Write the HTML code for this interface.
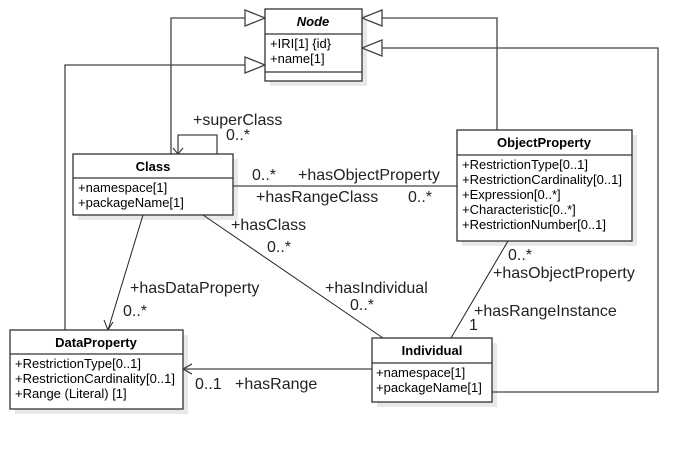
<!DOCTYPE html>
<html><head><style>body{margin:0;background:#fff}svg{display:block}</style></head><body>
<svg width="699" height="450" xmlns="http://www.w3.org/2000/svg" font-family="Liberation Sans, sans-serif">
<rect width="699" height="450" fill="#fff"/>
<g fill="#e8e8e8">
<rect x="270" y="14" width="97" height="72"/>
<rect x="78" y="159" width="160" height="61"/>
<rect x="462" y="135" width="175" height="111"/>
<rect x="15" y="335" width="173" height="79"/>
<rect x="377" y="343" width="120" height="64"/>
</g>
<g fill="none" stroke="#444" stroke-width="1.3">
<polyline points="171,154 171,18 245,18"/>
<polyline points="65,330 65,65 245,65"/>
<polyline points="497,130 497,18 382,18"/>
<polyline points="492,392 658,392 658,48 382,48"/>
<polyline points="217,154 217,135 178,135 178,154"/>
<polyline points="173,148 178,154 183,148"/>
<line x1="233" y1="186" x2="457" y2="186"/>
<line x1="372" y1="369" x2="183" y2="369"/>
<polyline points="192,364 183,369 192,374"/>
<polygon points="245,10 265,18 245,26" fill="#fff"/>
<polygon points="245,57 265,65 245,73" fill="#fff"/>
<polygon points="382,10 362,18 382,26" fill="#fff"/>
<polygon points="382,40 362,48 382,56" fill="#fff"/>
</g>
<g stroke="#222" stroke-width="1">
<line x1="143" y1="215" x2="108" y2="330"/>
<polyline points="104,320 108,330 113,322" fill="none"/>
<line x1="203" y1="215" x2="383" y2="338"/>
<line x1="508" y1="241" x2="451" y2="338"/>
</g>
<g fill="#fff" stroke="#333" stroke-width="1.3">
<rect x="265" y="9" width="97" height="72"/><line x1="265" y1="34" x2="362" y2="34"/><line x1="265" y1="72" x2="362" y2="72"/>
<rect x="73" y="154" width="160" height="61"/><line x1="73" y1="178" x2="233" y2="178"/>
<rect x="457" y="130" width="175" height="111"/><line x1="457" y1="155" x2="632" y2="155"/>
<rect x="10" y="330" width="173" height="79"/><line x1="10" y1="354" x2="183" y2="354"/>
<rect x="372" y="338" width="120" height="64"/><line x1="372" y1="363" x2="492" y2="363"/>
</g>
<g font-size="13" font-weight="bold" text-anchor="middle" fill="#000">
<text x="313" y="26" font-style="italic">Node</text>
<text x="153" y="171">Class</text>
<text x="544" y="147">ObjectProperty</text>
<text x="96" y="347">DataProperty</text>
<text x="432" y="355">Individual</text>
</g>
<g font-size="13" fill="#000">
<text x="270" y="48">+IRI[1] {id}</text>
<text x="270" y="63">+name[1]</text>
<text x="78" y="192">+namespace[1]</text>
<text x="78" y="207">+packageName[1]</text>
<text x="462" y="169" textLength="126" lengthAdjust="spacingAndGlyphs">+RestrictionType[0..1]</text>
<text x="462" y="184" textLength="160" lengthAdjust="spacingAndGlyphs">+RestrictionCardinality[0..1]</text>
<text x="462" y="199">+Expression[0..*]</text>
<text x="462" y="214">+Characteristic[0..*]</text>
<text x="462" y="229" textLength="144" lengthAdjust="spacingAndGlyphs">+RestrictionNumber[0..1]</text>
<text x="15" y="368" textLength="126" lengthAdjust="spacingAndGlyphs">+RestrictionType[0..1]</text>
<text x="15" y="383" textLength="160" lengthAdjust="spacingAndGlyphs">+RestrictionCardinality[0..1]</text>
<text x="15" y="398">+Range (Literal) [1]</text>
<text x="376" y="377">+namespace[1]</text>
<text x="376" y="392">+packageName[1]</text>
</g>
<g font-size="16" fill="#222">
<text x="193" y="125">+superClass</text>
<text x="226" y="140">0..*</text>
<text x="252" y="180">0..*</text>
<text x="298" y="180">+hasObjectProperty</text>
<text x="256" y="202">+hasRangeClass</text>
<text x="408" y="202">0..*</text>
<text x="231" y="230">+hasClass</text>
<text x="267" y="252">0..*</text>
<text x="130" y="293">+hasDataProperty</text>
<text x="123" y="316">0..*</text>
<text x="325" y="293">+hasIndividual</text>
<text x="350" y="310">0..*</text>
<text x="508" y="260">0..*</text>
<text x="493" y="278">+hasObjectProperty</text>
<text x="474" y="316">+hasRangeInstance</text>
<text x="469" y="330">1</text>
<text x="195" y="389">0..1</text>
<text x="235" y="389">+hasRange</text>
</g>
</svg>
</body></html>
